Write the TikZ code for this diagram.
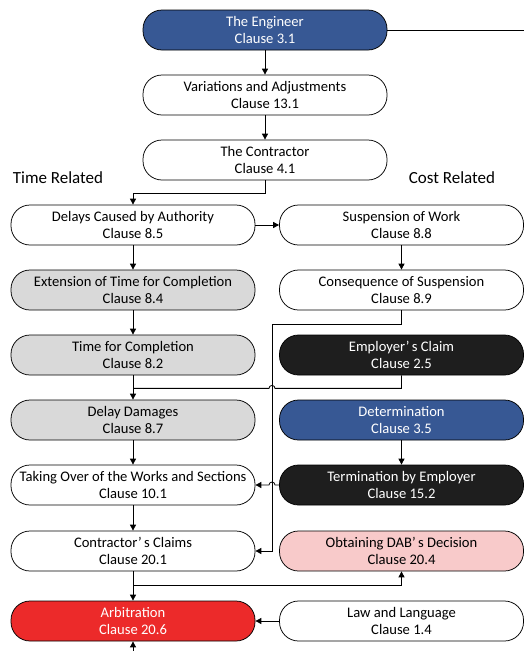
\documentclass[tikz,border=0pt]{standalone}
\usepackage{fontspec}
\setmainfont{Carlito}
\usetikzlibrary{positioning,arrows.meta}

\definecolor{clauseblue}{RGB}{55,88,148}
\definecolor{clausegrey}{RGB}{217,217,217}
\definecolor{clauseblack}{RGB}{30,30,30}
\definecolor{clausepink}{RGB}{248,202,202}
\definecolor{clausered}{RGB}{236,42,42}

\tikzset{
  clausebox/.style={draw, rounded corners=19pt, minimum width=244pt, minimum height=40pt,
    inner sep=1pt, align=center, line width=0.75pt, fill=white,
    font=\fontsize{14.6}{16.8}\selectfont},
  greybox/.style={clausebox, fill=clausegrey},
  bluebox/.style={clausebox, fill=clauseblue, text=white},
  blackbox/.style={clausebox, fill=clauseblack, text=white},
  pinkbox/.style={clausebox, fill=clausepink},
  redbox/.style={clausebox, fill=clausered, text=white},
  flow/.style={-{Triangle[width=6pt,length=6pt]}, line width=0.8pt},
  link/.style={line width=0.8pt}
}

\begin{document}
\begin{tikzpicture}[node distance=65pt]
\useasboundingbox (0,0) rectangle (524pt,-651pt);

% top of the chain
\node (eng) [bluebox] at (265pt,-30pt) {The Engineer\\Clause 3.1};
\node (var) [below of=eng, clausebox] {Variations and Adjustments\\Clause 13.1};
\node (con) [below of=var, clausebox] {The Contractor\\Clause 4.1};

\node (timelbl) at (58pt,-178pt) {\fontsize{17}{20}\selectfont Time Related};
\node (costlbl) at (452pt,-178pt) {\fontsize{17}{20}\selectfont Cost Related};

% time related
\node (dly) [below of=con, xshift=-132pt, clausebox] {Delays Caused by Authority\\Clause 8.5};
\node (ext) [below of=dly, greybox] {Extension of Time for Completion\\Clause 8.4};
\node (tfc) [below of=ext, greybox] {Time for Completion\\Clause 8.2};
\node (dd) [below of=tfc, greybox] {Delay Damages\\Clause 8.7};
\node (tak) [below of=dd, clausebox] {Taking Over of the Works and Sections\\Clause 10.1};
\node (ccl) [below of=tak, yshift=-1pt, clausebox] {Contractor’\,s Claims\\Clause 20.1};
\node (arb) [below of=ccl, yshift=-5pt, redbox] {Arbitration\\Clause 20.6};

% cost related
\node (sus) [node distance=268.5pt, right of=dly, clausebox] {Suspension of Work\\Clause 8.8};
\node (cos) [below of=sus, clausebox] {Consequence of Suspension\\Clause 8.9};
\node (emp) [below of=cos, blackbox] {Employer’\,s Claim\\Clause 2.5};
\node (det) [below of=emp, bluebox] {Determination\\Clause 3.5};
\node (ter) [below of=det, blackbox] {Termination by Employer\\Clause 15.2};
\node (dab) [node distance=268.5pt, right of=ccl, pinkbox] {Obtaining DAB’\,s Decision\\Clause 20.4};
\node (law) [node distance=268.5pt, right of=arb, clausebox] {Law and Language\\Clause 1.4};

\coordinate (vx) at (272pt,0);
\coordinate (engout) at ([xshift=137pt]eng.east);
\coordinate (arbin) at ([yshift=-10pt]arb.south);

\draw[flow] (eng) -- (var);
\draw[flow] (var) -- (con);
\draw[link] (eng.east) -- (engout);
\draw[flow] (con.south) -- ++(0,-13pt) -| (dly.north);

\draw[flow] (dly) -- (ext);
\draw[flow] (ext) -- (tfc);
\draw[flow] (dly) -- (sus);
\draw[flow] (sus) -- (cos);

\draw[flow] (cos.south) -- ++(0,-14pt) -| (vx |- ccl.east) -- (ccl.east);
\draw[link] (emp.south) -- ++(0,-13pt) coordinate (j1) -- ([xshift=3pt]j1 -| vx)
  arc (0:180:3pt) -- (j1 -| tfc.south);
\draw[flow] (tfc) -- (dd);

\draw[flow] (dd) -- (tak);
\draw[flow] (det) -- (ter);
\draw[flow] (ter.west) -- ([xshift=3pt]vx |- ter.west) arc (0:180:3pt) -- (tak.east);
\draw[flow] (tak) -- (ccl);

\draw[flow] (ccl) -- (arb);
\draw[flow] (ccl.south) -- ++(0,-14pt) -| (dab.south);
\draw[flow] (law) -- (arb);
\draw[flow] (arbin) -- (arb.south);
\end{tikzpicture}
\end{document}
